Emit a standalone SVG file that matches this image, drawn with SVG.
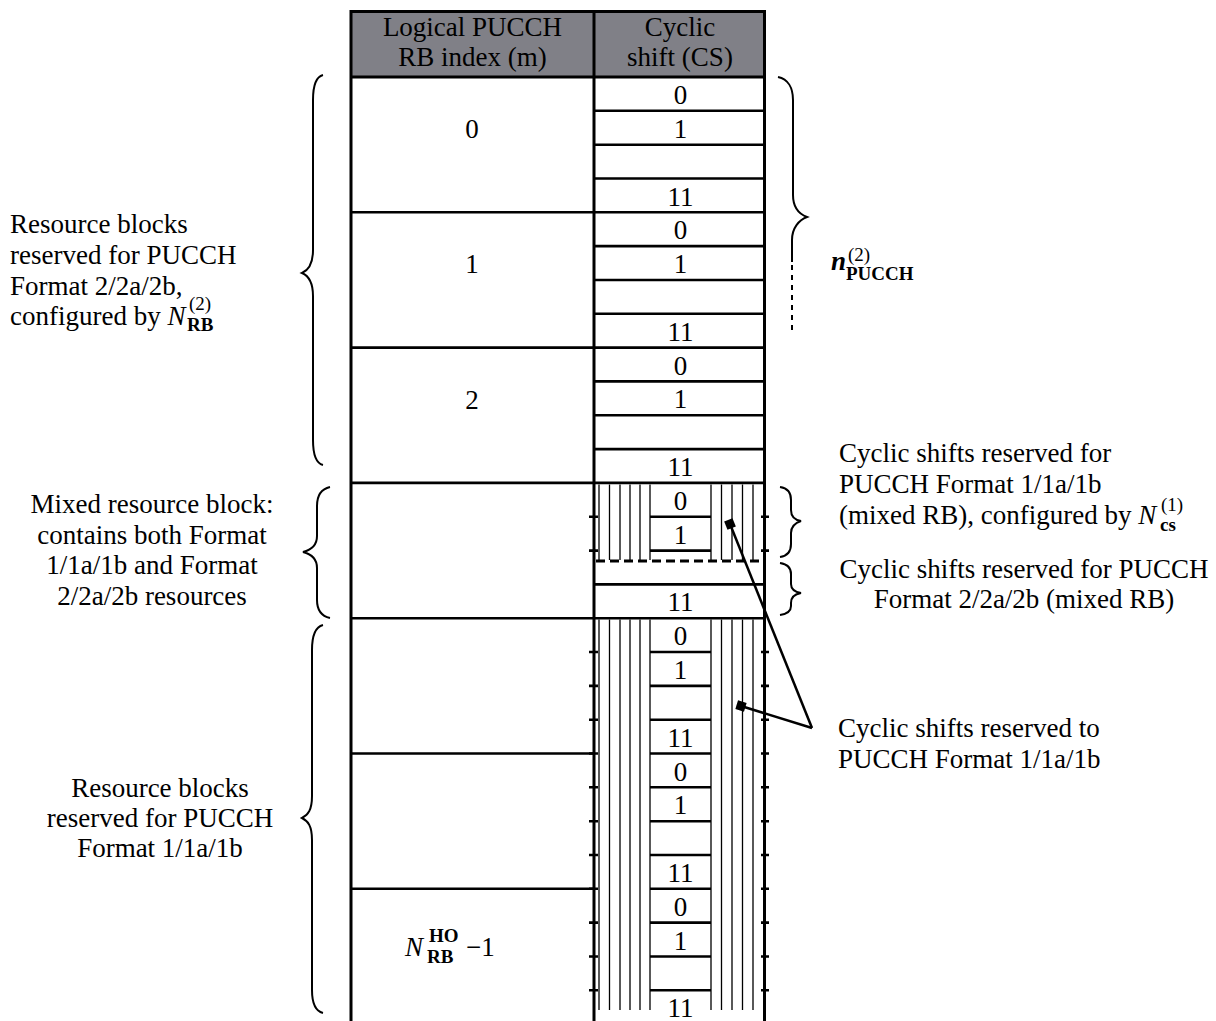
<svg xmlns="http://www.w3.org/2000/svg" width="1216" height="1021" viewBox="0 0 1216 1021">
<style>
.t{font-family:"Liberation Serif","Times New Roman",serif;font-size:27px;fill:#000}
.c{text-anchor:middle}
.s{font-size:19px}
.b{font-weight:bold}
.i{font-style:italic}
.bd{stroke:#000;stroke-width:3;fill:none}
.rw{stroke:#000;stroke-width:2.6;fill:none}
.h{stroke:#000;stroke-width:1.3;fill:none}
.br{stroke:#000;stroke-width:2;fill:none}
.cn{stroke:#000;stroke-width:2.5;fill:none}
</style>
<defs>
<marker id="sq" viewBox="-5 -5 10 10" markerWidth="10" markerHeight="10" markerUnits="userSpaceOnUse" orient="auto"><rect x="-4.5" y="-4.5" width="9" height="9" fill="#000"/></marker>
</defs>
<rect width="1216" height="1021" fill="#fff"/>

<g id="table">
<rect x="351" y="11.5" width="413.5" height="65.5" fill="#808087"/>
<g id="hatch">
<path class="h" d="M599,484.5V560M609.5,484.5V560M620,484.5V560M630,484.5V560M640,484.5V560M650,484.5V560M711,484.5V560M721.5,484.5V560M732,484.5V560M742.5,484.5V560M753,484.5V560"/>
<path class="h" d="M599,619.5V1010M609.5,619.5V1010M620,619.5V1010M630,619.5V1010M640,619.5V1010M650,619.5V1010M711,619.5V1010M721.5,619.5V1010M732,619.5V1010M742.5,619.5V1010M753,619.5V1010"/>
</g>
<path class="rw" d="M594,110.8H765M594,144.7H765M594,178.5H765M351,212.3H765M594,246.1H765M594,280H765M594,313.8H765M351,347.6H765M594,381.4H765M594,415.3H765M594,449.1H765M351,482.9H765M594,584.4H765M351,618.2H765M351,753.5H594M351,888.8H594"/>
<path class="rw" d="M650,516.7H711M650,550.6H711M650,652H711M650,685.9H711M650,719.7H711M650,753.5H711M650,787.3H711M650,821.2H711M650,855H711M650,888.8H711M650,922.6H711M650,956.5H711M650,990.3H711"/>
<path class="rw" d="M589,516.7H598M589,550.6H598M589,652H598M589,685.9H598M589,719.7H598M589,753.5H598M589,787.3H598M589,821.2H598M589,855H598M589,888.8H598M589,922.6H598M589,956.5H598M589,990.3H598"/>
<path class="rw" d="M761,516.7H769M761,550.6H769M761,652H769M761,685.9H769M761,719.7H769M761,753.5H769M761,787.3H769M761,821.2H769M761,855H769M761,888.8H769M761,922.6H769M761,956.5H769M761,990.3H769"/>
<path class="bd" d="M596,561H763" stroke-dasharray="9 5"/>
<path class="bd" d="M351,10V1021M594,10V1021M764.5,10V1021M349.5,11.5H766M349.5,77H766"/>
<text class="t c" x="472.5" y="36">Logical PUCCH</text>
<text class="t c" x="472.5" y="66">RB index (m)</text>
<text class="t c" x="680" y="36">Cyclic</text>
<text class="t c" x="680" y="66">shift (CS)</text>
</g>

<g id="rb-index">
<text class="t c" x="472" y="138">0</text>
<text class="t c" x="472" y="273">1</text>
<text class="t c" x="472" y="409">2</text>
<text class="t i" x="405" y="956">N</text>
<text class="t s b" x="429" y="942">HO</text>
<text class="t s b" x="427" y="963">RB</text>
<text class="t" x="466" y="956">−1</text>
</g>

<g id="cs-labels">
<text class="t c" x="680.5" y="104">0</text><text class="t c" x="680.5" y="137.8">1</text><text class="t c" x="680.5" y="205.5">11</text>
<text class="t c" x="680.5" y="239.3">0</text><text class="t c" x="680.5" y="273.1">1</text><text class="t c" x="680.5" y="340.8">11</text>
<text class="t c" x="680.5" y="374.6">0</text><text class="t c" x="680.5" y="408.4">1</text><text class="t c" x="680.5" y="476.1">11</text>
<text class="t c" x="680.5" y="509.9">0</text><text class="t c" x="680.5" y="543.7">1</text><text class="t c" x="680.5" y="611.4">11</text>
<text class="t c" x="680.5" y="645.2">0</text><text class="t c" x="680.5" y="679">1</text><text class="t c" x="680.5" y="746.7">11</text>
<text class="t c" x="680.5" y="780.5">0</text><text class="t c" x="680.5" y="814.3">1</text><text class="t c" x="680.5" y="882">11</text>
<text class="t c" x="680.5" y="915.8">0</text><text class="t c" x="680.5" y="949.6">1</text><text class="t c" x="680.5" y="1017.3">11</text>
</g>

<g id="braces">
<path class="br" d="M323,75C315,77 313,88 313,100L313,250C313,264 309,270 302,273C309,276 313,282 313,296L313,440C313,452 315,463 323,465"/>
<path class="br" d="M330,487C321,489 317,496 317,506L317,536C317,546 311,550 303,552C311,554 317,558 317,568L317,600C317,610 321,616 330,618"/>
<path class="br" d="M323,625C315,627 312,638 312,650L312,796C312,810 308,815 302,818C308,821 312,826 312,840L312,990C312,1002 315,1011 323,1013"/>
<path class="br" d="M778,77C788,79 793,88 793,100L793,195C793,208 799,214 807,217C799,220 792,228 792,240L792,262"/>
<path class="br" d="M792,265V330" stroke-width="1.5" stroke-dasharray="5 5"/>
<path class="br" d="M780,487C787,488 791,492 791,500L791,510C791,517 795,520 801,521C795,523 791,526 791,533L791,544C791,552 787,556 780,557"/>
<path class="br" d="M780,563C787,564 791,568 791,574L791,584C791,590 795,592 801,593C795,594 791,597 791,603L791,606C791,611 787,614 780,615"/>
</g>

<g id="left-labels">
<text class="t" x="10" y="233">Resource blocks</text>
<text class="t" x="10" y="264">reserved for PUCCH</text>
<text class="t" x="10" y="294.5">Format 2/2a/2b,</text>
<text class="t" x="10" y="325">configured by <tspan class="i">N</tspan></text>
<text class="t s" x="189" y="310">(2)</text>
<text class="t s b" x="187" y="331">RB</text>
<text class="t c" x="152" y="513">Mixed resource block:</text>
<text class="t c" x="152" y="543.5">contains both Format</text>
<text class="t c" x="152" y="574">1/1a/1b and Format</text>
<text class="t c" x="152" y="604.5">2/2a/2b resources</text>
<text class="t c" x="160" y="796.5">Resource blocks</text>
<text class="t c" x="160" y="826.5">reserved for PUCCH</text>
<text class="t c" x="160" y="856.5">Format 1/1a/1b</text>
</g>

<g id="right-labels">
<text class="t b i" x="831" y="270">n</text>
<text class="t s" x="848" y="261">(2)</text>
<text class="t s b" x="846" y="280">PUCCH</text>
<text class="t" x="839" y="462">Cyclic shifts reserved for</text>
<text class="t" x="839" y="493">PUCCH Format 1/1a/1b</text>
<text class="t" x="839" y="524">(mixed RB), configured by <tspan class="i">N</tspan></text>
<text class="t s" x="1161" y="511">(1)</text>
<text class="t s b" x="1160" y="531">cs</text>
<text class="t c" x="1024" y="578">Cyclic shifts reserved for PUCCH</text>
<text class="t c" x="1024" y="608">Format 2/2a/2b (mixed RB)</text>
<text class="t" x="838" y="737">Cyclic shifts reserved to</text>
<text class="t" x="838" y="768">PUCCH Format 1/1a/1b</text>
</g>

<g id="connectors">
<path class="cn" d="M812,728L730,524" marker-end="url(#sq)"/>
<path class="cn" d="M812,728L741,706" marker-end="url(#sq)"/>
</g>
</svg>
